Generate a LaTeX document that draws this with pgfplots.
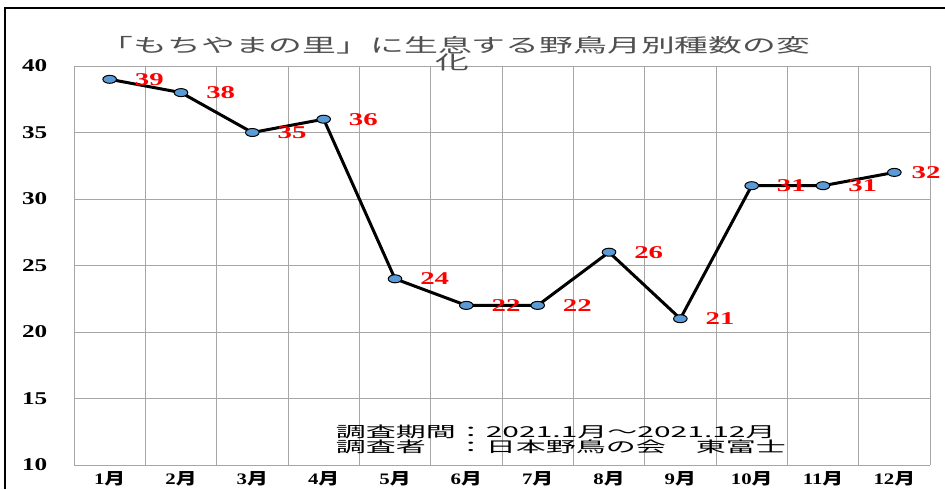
\documentclass[border=0pt]{standalone}
\usepackage{pgfplots}
\pgfplotsset{compat=1.18}
\usepackage{fontspec}
\setmainfont{Liberation Serif}
\newfontfamily\jp{Noto Sans CJK JP}
\definecolor{gridc}{HTML}{A6A6A6}
\definecolor{mk}{HTML}{5B9BD5}
\definecolor{titlec}{HTML}{505050}
\begin{document}
\begin{tikzpicture}
\useasboundingbox (0,0) rectangle (472.5pt,244.5pt);
\fill[white] (0,0) rectangle (472.5pt,244.5pt);
\draw[black, line width=1pt] (2.5pt,0) -- (2.5pt,240.5pt) -- (472.5pt,240.5pt);
\begin{axis}[at={(37pt,12pt)}, anchor=south west, scale only axis,
  width=428pt, height=199.5pt,
  xmin=-0.5, xmax=11.5, ymin=10, ymax=40,
  xtick={0,1,2,3,4,5,6,7,8,9,10,11},
  xticklabels={{1\jp 月},{2\jp 月},{3\jp 月},{4\jp 月},{5\jp 月},{6\jp 月},{7\jp 月},{8\jp 月},{9\jp 月},{10\jp 月},{11\jp 月},{12\jp 月}},
  minor xtick={-0.5,0.5,1.5,2.5,3.5,4.5,5.5,6.5,7.5,8.5,9.5,10.5,11.5}, xminorgrids,
  ytick={10,15,20,25,30,35,40}, ymajorgrids,
  major tick length=0pt, minor tick length=0pt,
  grid style={gridc, line width=0.5pt},
  minor grid style={gridc, line width=0.5pt},
  axis line style={draw=none},
  clip=false,
  /pgf/number format/assume math mode=true,
  yticklabel style={font=\bfseries\fontsize{9}{9}\selectfont, xscale=1.4, anchor=east, xshift=-6pt},
  xticklabel style={font=\bfseries\fontsize{8}{8}\selectfont, xscale=1.3, anchor=north, yshift=0.5pt},
]
\addplot[black, line width=1.5pt, mark=*, mark size=2pt,
  mark options={xscale=1.7, fill=mk, draw=black, line width=0.5pt}]
  coordinates {(0,39) (1,38) (2,35) (3,36) (4,24) (5,22) (6,22) (7,26) (8,21) (9,31) (10,31) (11,32)};
\addplot[draw=none, mark=none, nodes near coords,
  every node near coord/.append style={anchor=west, xshift=7pt, font=\bfseries\fontsize{9}{9}\selectfont, xscale=1.6, text=red}]
  coordinates {(0,39) (1,38) (2,35) (3,36) (4,24) (5,22) (6,22) (7,26) (8,21) (9,31) (10,31)};
\addplot[draw=none, mark=none, nodes near coords,
  every node near coord/.append style={anchor=west, xshift=3pt, font=\bfseries\fontsize{9}{9}\selectfont, xscale=1.6, text=red}]
  coordinates {(11,32)};
\end{axis}
\node[titlec, font=\jp\fontsize{9.5}{10}\selectfont, xscale=1.78] at (227.5pt,222pt) {「もちやまの里」に生息する野鳥月別種数の変};
\node[titlec, font=\jp\fontsize{9.5}{10}\selectfont, xscale=1.78] at (226pt,213.5pt) {化};
\node[black, font=\jp\fontsize{7.5}{8}\selectfont, xscale=2.0, anchor=west, inner sep=0pt] at (167.5pt,28.5pt) {調査期間：2021.1月～2021.12月};
\node[black, font=\jp\fontsize{7.5}{8}\selectfont, xscale=2.0, anchor=west, inner sep=0pt] at (167.5pt,21pt) {調査者　：日本野鳥の会　東富士};
\end{tikzpicture}
\end{document}
